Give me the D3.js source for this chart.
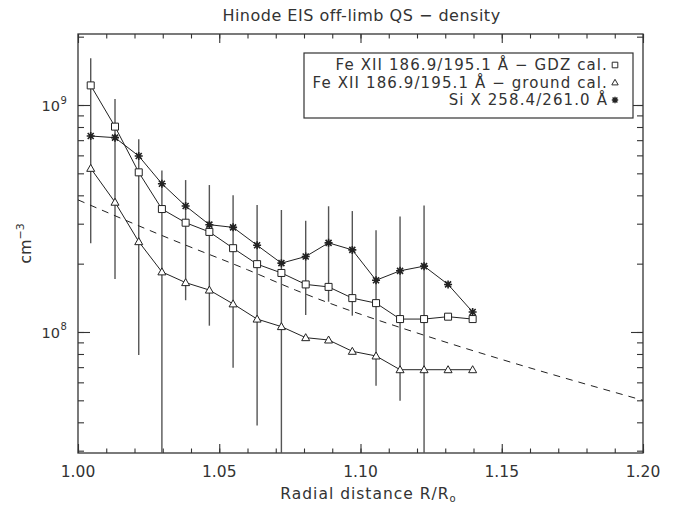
<!DOCTYPE html>
<html>
<head>
<meta charset="utf-8">
<script src="https://cdn.jsdelivr.net/npm/d3@7"></script>
<style>
    body { margin: 0; background: #fff; }
    text { font-family: "DejaVu Sans", sans-serif; fill: #333; }
</style>
</head>
<body>
<div id="chart"></div>
<script>
// data
let radius = [1.0045, 1.0131, 1.0215, 1.0297, 1.0381, 1.0465, 1.0549, 1.0634, 1.0720,
    1.0806, 1.0887, 1.0971, 1.1055, 1.1140, 1.1225, 1.1310, 1.1397];
let gdzCal = [1.22e9, 8.03e8, 5.05e8, 3.48e8, 3.03e8, 2.76e8, 2.34e8, 1.99e8, 1.82e8,
    1.62e8, 1.58e8, 1.41e8, 1.34e8, 1.14e8, 1.14e8, 1.168e8, 1.14e8];
let groundCal = [5.26e8, 3.73e8, 2.50e8, 1.84e8, 1.65e8, 1.53e8, 1.33e8, 1.14e8, 1.056e8,
    9.44e7, 9.22e7, 8.22e7, 7.84e7, 6.82e7, 6.82e7, 6.82e7, 6.82e7];
let siX = [7.30e8, 7.18e8, 5.96e8, 4.50e8, 3.59e8, 2.97e8, 2.89e8, 2.41e8, 2.01e8,
    2.15e8, 2.47e8, 2.30e8, 1.69e8, 1.86e8, 1.95e8, 1.62e8, 1.225e8];

// error bars (first 15 radii), low ends below the axis are clipped
let errHigh = [1.606e9, 1.063e9, 7.06e8, 5.14e8, 4.67e8, 4.44e8, 4.00e8, 3.63e8, 3.45e8,
    3.09e8, 3.58e8, 3.41e8, 2.81e8, 3.23e8, 3.61e8];
let errLow = [2.46e8, 1.71e8, 7.92e7, 1e7, 1.38e8, 1.066e8, 6.96e7, 3.87e7, 1e7,
    1.188e8, 1.36e8, 1.18e8, 5.80e7, 4.98e7, 1e7];

// dashed model curve
let modelR = [1.000, 1.032, 1.060, 1.077, 1.128, 1.148, 1.200];
let modelN = [3.82e8, 2.59e8, 1.88e8, 1.53e8, 9.2e7, 7.7e7, 5.0e7];

let xTicks = [1.00, 1.05, 1.10, 1.15, 1.20];
let legendLabels = ["Fe XII 186.9/195.1 Å − GDZ cal.", "Fe XII 186.9/195.1 Å − ground cal.", "Si X 258.4/261.0 Å"];

// layout
let width = 680, height = 506;
let margin = {top: 34, right: 37, bottom: 53, left: 78};
let innerW = width - margin.left - margin.right;
let innerH = height - margin.top - margin.bottom;

let svg = d3.select("#chart").append("svg")
    .attr("width", width)
    .attr("height", height);

let x = d3.scaleLinear().domain([1.0, 1.2]).range([margin.left, margin.left + innerW]);
let y = d3.scaleLog().domain([2.93e7, 2.055e9]).range([margin.top + innerH, margin.top]);

svg.append("clipPath").attr("id", "clip")
    .append("rect")
    .attr("x", margin.left).attr("y", margin.top)
    .attr("width", innerW).attr("height", innerH);

let axisColor = "#333";

// ticks on all four sides
let xMinor = d3.range(1.0, 1.2001, 0.01);
let yMinor = [];
[1e7, 1e8, 1e9].forEach(d => { for (let k = 1; k < 10; k++) yMinor.push(d * k); });
yMinor = yMinor.filter(v => v >= y.domain()[0] && v <= y.domain()[1]);

let bottomAxis = d3.axisBottom(x).tickValues(xMinor).tickSize(-4.5).tickFormat("");
let topAxis = d3.axisTop(x).tickValues(xMinor).tickSize(-4.5).tickFormat("");
svg.append("g").attr("transform", `translate(0,${margin.top + innerH})`).call(bottomAxis);
svg.append("g").attr("transform", `translate(0,${margin.top})`).call(topAxis);
svg.append("g").attr("transform", `translate(0,${margin.top + innerH})`)
    .call(d3.axisBottom(x).tickValues(xTicks).tickSize(-9).tickFormat(""));
svg.append("g").attr("transform", `translate(0,${margin.top})`)
    .call(d3.axisTop(x).tickValues(xTicks).tickSize(-9).tickFormat(""));

svg.append("g").attr("transform", `translate(${margin.left},0)`)
    .call(d3.axisLeft(y).tickValues(yMinor).tickSize(-6).tickFormat(""));
svg.append("g").attr("transform", `translate(${margin.left + innerW},0)`)
    .call(d3.axisRight(y).tickValues(yMinor).tickSize(-6).tickFormat(""));
svg.append("g").attr("transform", `translate(${margin.left},0)`)
    .call(d3.axisLeft(y).tickValues([1e8, 1e9]).tickSize(-12).tickFormat(""));
svg.append("g").attr("transform", `translate(${margin.left + innerW},0)`)
    .call(d3.axisRight(y).tickValues([1e8, 1e9]).tickSize(-12).tickFormat(""));

svg.selectAll(".domain").remove();
svg.selectAll(".tick line").attr("stroke", axisColor).attr("stroke-width", 1.1);

// frame
svg.append("rect")
    .attr("x", margin.left).attr("y", margin.top)
    .attr("width", innerW).attr("height", innerH)
    .attr("fill", "none").attr("stroke", axisColor).attr("stroke-width", 1.3);

// tick labels
svg.selectAll(".xlab").data(xTicks).enter().append("text")
    .attr("class", "xlab")
    .attr("x", d => x(d)).attr("y", 477)
    .attr("text-anchor", "middle")
    .attr("font-size", 15.5)
    .text(d => d.toFixed(2));

[8, 9].forEach(p => {
    svg.append("text")
        .attr("x", 60).attr("y", y(Math.pow(10, p)) + 6)
        .attr("text-anchor", "end")
        .attr("font-size", 14.5)
        .text("10");
    svg.append("text")
        .attr("x", 60.5).attr("y", y(Math.pow(10, p)) - 1.5)
        .attr("font-size", 10)
        .text(p);
});

// title and axis titles
svg.append("text")
    .attr("x", margin.left + innerW / 2 + 1).attr("y", 21)
    .attr("text-anchor", "middle")
    .attr("font-size", 16)
    .attr("letter-spacing", 0.5)
    .text("Hinode EIS off-limb QS − density");

let xt = svg.append("text")
    .attr("x", margin.left + innerW / 2 + 8).attr("y", 499)
    .attr("text-anchor", "middle")
    .attr("font-size", 15.5)
    .attr("letter-spacing", 1);
xt.append("tspan").text("Radial distance R/R");
xt.append("tspan").attr("font-size", 10).attr("dy", 3).text("o");

let yt = svg.append("text")
    .attr("transform", `translate(31,${margin.top + innerH / 2}) rotate(-90)`)
    .attr("text-anchor", "middle")
    .attr("font-size", 16);
yt.append("tspan").text("cm");
yt.append("tspan").attr("font-size", 11).attr("dy", -7).text("−3");

// plot layer
let plot = svg.append("g").attr("clip-path", "url(#clip)");

// error bars
plot.selectAll(".err").data(errHigh).enter().append("line")
    .attr("class", "err")
    .attr("x1", (d, i) => x(radius[i])).attr("x2", (d, i) => x(radius[i]))
    .attr("y1", d => y(d)).attr("y2", (d, i) => y(errLow[i]))
    .attr("stroke", "#555").attr("stroke-width", 1.4);

// model curve
let modelLine = d3.line().x(d => x(d[0])).y(d => y(d[1])).curve(d3.curveMonotoneX);
plot.append("path")
    .datum(modelR.map((r, i) => [r, modelN[i]]))
    .attr("d", modelLine)
    .attr("fill", "none").attr("stroke", "#222").attr("stroke-width", 1)
    .attr("stroke-dasharray", "7,6");

// series
let line = d3.line().x(d => x(d[0])).y(d => y(d[1]));
let symSquare = "M-3.5,-3.5H3.5V3.5H-3.5Z";
let symTriangle = "M0,-4L4,3H-4Z";
let symStar = "M-4,0H4M0,-4V4M-3,-3L3,3M-3,3L3,-3";

let series = [
    {values: gdzCal, sym: symSquare},
    {values: groundCal, sym: symTriangle},
    {values: siX, sym: symStar}
];

series.forEach(s => {
    let pts = radius.map((r, i) => [r, s.values[i]]);
    plot.append("path").datum(pts)
        .attr("d", line)
        .attr("fill", "none").attr("stroke", "#222").attr("stroke-width", 1);
    plot.selectAll(null).data(pts).enter().append("path")
        .attr("transform", d => `translate(${x(d[0])},${y(d[1])})`)
        .attr("d", s.sym)
        .attr("fill", s.sym === symStar ? "none" : "#fff")
        .attr("stroke", "#222")
        .attr("stroke-width", s.sym === symStar ? 1.6 : 1);
});

// legend
let lg = svg.append("g");
lg.append("rect")
    .attr("x", 304).attr("y", 53)
    .attr("width", 329).attr("height", 65)
    .attr("fill", "#fff").attr("stroke", axisColor).attr("stroke-width", 1.2);

legendLabels.forEach((lab, i) => {
    let cy = 65 + i * 17.5;
    lg.append("text")
        .attr("x", 608).attr("y", cy + 5)
        .attr("text-anchor", "end")
        .attr("font-size", 15)
        .attr("letter-spacing", 1.1)
        .text(lab);
    lg.append("path")
        .attr("transform", `translate(615,${cy}) scale(0.8)`)
        .attr("d", series[i].sym)
        .attr("fill", "none").attr("stroke", "#222")
        .attr("stroke-width", i === 2 ? 1.8 : 1.2);
});
</script>
</body>
</html>
